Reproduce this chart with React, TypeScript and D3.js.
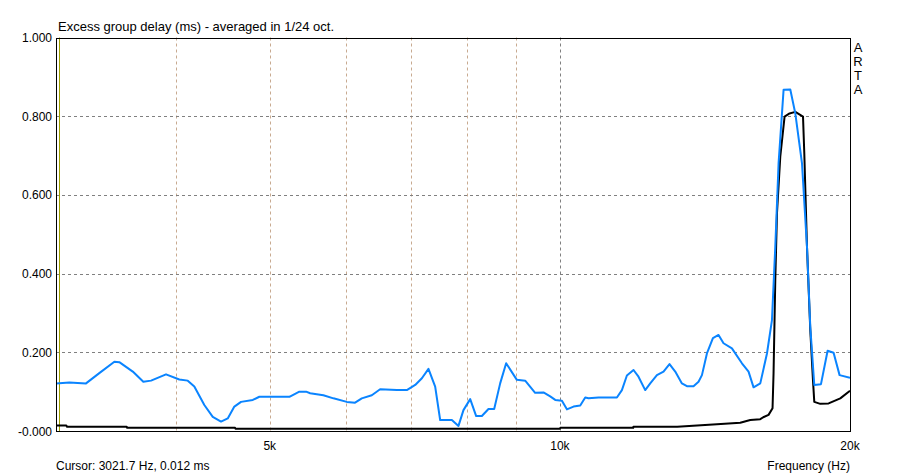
import React from "react";
import * as d3 from "d3";

const blueFreq = [3000,3097,3223,3327,3449,3490,3604,3696,3765,3902,4028,4110,4175,4276,4363,4450,4522,4594,4668,4801,4877,5240,5366,5453,5506,5683,5821,6010,6130,6229,6380,6508,6773,6937,7077,7191,7305,7423,7512,7725,7848,7942,8071,8187,8299,8431,8547,8670,8795,9023,9204,9426,9615,9771,9889,10048,10169,10331,10498,10624,10708,10967,11459,11597,11736,11923,12066,12261,12409,12609,12809,12994,13173,13385,13546,13761,13927,14041,14209,14414,14609,14784,15084,15449,15695,15884,16141,16401,16598,16730,16862,17065,17341,17550,17833,18047,18189,18364,18660,18958,19231,19508,20000];
const blueVal = [0.121,0.123,0.121,0.147,0.176,0.175,0.151,0.125,0.128,0.144,0.131,0.128,0.113,0.066,0.036,0.024,0.032,0.062,0.074,0.079,0.087,0.087,0.100,0.100,0.096,0.091,0.083,0.074,0.072,0.083,0.091,0.106,0.104,0.104,0.117,0.134,0.158,0.113,0.028,0.028,0.013,0.053,0.081,0.038,0.038,0.056,0.056,0.121,0.172,0.130,0.128,0.097,0.098,0.088,0.079,0.077,0.055,0.062,0.065,0.085,0.083,0.085,0.085,0.104,0.141,0.155,0.138,0.104,0.121,0.142,0.151,0.170,0.151,0.121,0.114,0.114,0.125,0.142,0.197,0.236,0.244,0.223,0.210,0.172,0.151,0.111,0.121,0.197,0.282,0.468,0.680,0.867,0.868,0.807,0.680,0.468,0.265,0.117,0.119,0.204,0.199,0.142,0.135];

const blackFreq = [3000,3075,3080,3552,3556,4602,4606,10000,10010,11915,11920,13236,14553,15386,15759,16141,16256,16463,16621,16661,16730,16798,16931,17106,17311,17550,17876,17931,18047,18189,18306,18364,18629,19003,19541,20000];
const blackVal = [0.014,0.014,0.011,0.011,0.008,0.008,0.006,0.006,0.008,0.008,0.011,0.011,0.017,0.021,0.028,0.030,0.035,0.041,0.058,0.147,0.384,0.553,0.697,0.799,0.807,0.811,0.799,0.706,0.468,0.257,0.130,0.074,0.069,0.070,0.083,0.102];

const yTicks = [0, 0.2, 0.4, 0.6, 0.8, 1.0];
const yTickLabels = ["-0.000", "0.200", "0.400", "0.600", "0.800", "1.000"];
const xGridTan = [4000, 5000, 6000, 7000, 8000, 9000];
const xGridGray = [10000];
const xTickVals = [5000, 10000, 20000];
const xTickLabels = ["5k", "10k", "20k"];
const cursorFreq = 3021.7;

const title = "Excess group delay (ms) - averaged in 1/24 oct.";
const cursorText = "Cursor: 3021.7 Hz, 0.012 ms";
const xTitle = "Frequency (Hz)";
const brand = ["A", "R", "T", "A"];

export default function App() {
  const W = 906, H = 476;
  const L = 56, R = 850, T = 37.5, B = 431;
  const x = d3.scaleLog().domain([3000, 20000]).range([L, R]);
  const y = d3.scaleLinear().domain([0, 1]).range([B, T]);
  const font = "'Liberation Sans', Arial, sans-serif";

  const line = d3.line<[number, number]>().x(d => x(d[0])).y(d => y(d[1]));
  const blue = blueFreq.map((f, i) => [f, blueVal[i]] as [number, number]);
  const black = blackFreq.map((f, i) => [f, blackVal[i]] as [number, number]);

  return (
    <svg width={W} height={H} style={{ position: "absolute", left: 0, top: 0, background: "#fff" }} fontFamily={font}>
      <rect x={0} y={0} width={W} height={H} fill="#fff" />
      <defs>
        <clipPath id="plot">
          <rect x={L} y={T} width={R - L} height={B - T} />
        </clipPath>
      </defs>
      {xGridTan.map(f => (
        <line key={"gt" + f} x1={Math.round(x(f)) + 0.5} x2={Math.round(x(f)) + 0.5} y1={T} y2={B} stroke="#c8aa90" strokeDasharray="3,3" />
      ))}
      {xGridGray.map(f => (
        <line key={"gg" + f} x1={Math.round(x(f)) + 0.5} x2={Math.round(x(f)) + 0.5} y1={T} y2={B} stroke="#808080" strokeDasharray="3,3" />
      ))}
      {yTicks.slice(1, 5).map(v => (
        <line key={"hy" + v} x1={L} x2={R} y1={Math.round(y(v)) + 0.5} y2={Math.round(y(v)) + 0.5} stroke="#808080" strokeDasharray="3,3" />
      ))}
      <line x1={Math.round(x(cursorFreq)) + 0.5} x2={Math.round(x(cursorFreq)) + 0.5} y1={T} y2={B} stroke="#a0a000" strokeWidth={1} />
      <g clipPath="url(#plot)">
        <path d={line(black) || ""} fill="none" stroke="#000" strokeWidth={2} strokeLinejoin="round" />
        <path d={line(blue) || ""} fill="none" stroke="#0a84ff" strokeWidth={2} strokeLinejoin="round" />
      </g>
      <rect x={L + 0.5} y={Math.round(T) + 0.5} width={R - L} height={B - Math.round(T)} fill="none" stroke="#000" strokeWidth={1} />
      {yTicks.map((v, i) => (
        <text key={"yl" + v} x={52} y={y(v) + 4.5} textAnchor="end" fontSize={12} fill="#000">{yTickLabels[i]}</text>
      ))}
      {xTickVals.map((f, i) => (
        <text key={"xl" + f} x={x(f)} y={450} textAnchor="middle" fontSize={12} fill="#000">{xTickLabels[i]}</text>
      ))}
      <text x={58} y={31} fontSize={13} fill="#000">{title}</text>
      <text x={56} y={470} fontSize={12} fill="#000">{cursorText}</text>
      <text x={850} y={470} textAnchor="end" fontSize={12} fill="#000">{xTitle}</text>
      {brand.map((c, i) => (
        <text key={"b" + i} x={858} y={52 + i * 14} textAnchor="middle" fontSize={13} fill="#000">{c}</text>
      ))}
    </svg>
  );
}
